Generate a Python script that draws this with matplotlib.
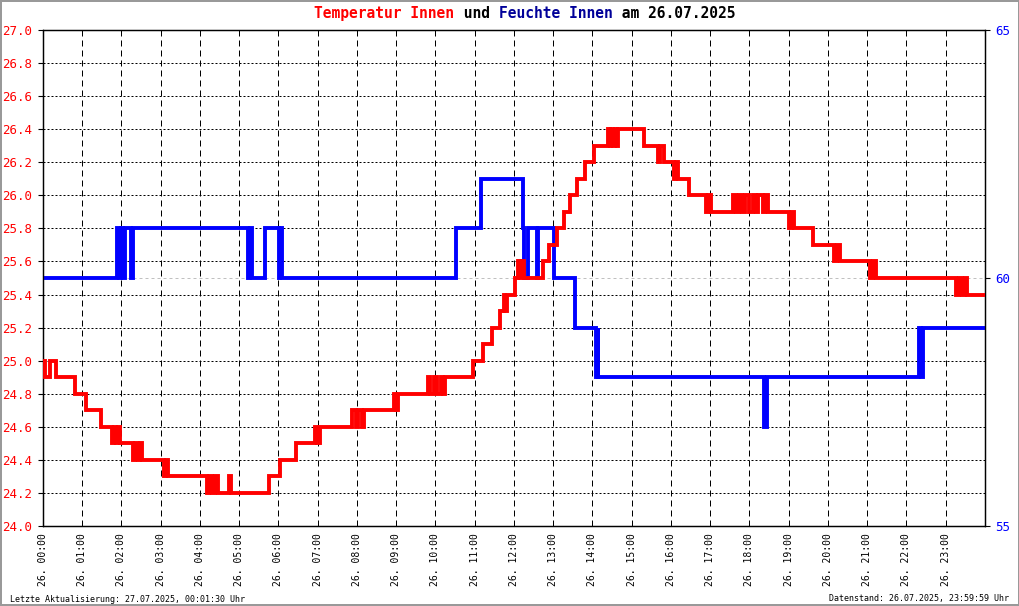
import numpy as np
import matplotlib
matplotlib.use('Agg')
import matplotlib.pyplot as plt

plt.rcParams['font.family'] = ['DejaVu Sans Mono']

# Temperatur Innen: Zeitpunkt (Minuten seit 00:00) und Wert ab diesem Zeitpunkt
temp_min = [0, 3, 11, 20, 49, 66, 89, 106, 109, 112, 115, 118, 138, 141, 145, 148, 152,
            185, 188, 191, 251, 254, 259, 263, 268, 285, 288, 346, 363, 387, 416, 419, 424,
            473, 478, 482, 488, 491, 536, 539, 543, 589, 592, 598, 602, 608, 612, 615,
            657, 673, 687, 698, 704, 707, 709, 721, 726, 729, 732, 735, 765, 773, 785,
            796, 805, 817, 828, 842, 863, 866, 869, 872, 875, 877, 879, 918, 940, 943,
            949, 964, 967, 970, 987, 1013, 1016, 1021, 1055, 1059, 1064, 1068, 1073, 1079,
            1085, 1090, 1093, 1100, 1104, 1108, 1140, 1145, 1148, 1177, 1209, 1214, 1218,
            1264, 1269, 1273, 1396, 1401, 1405, 1410, 1413, 1440]
temp_val = [25.0, 24.9, 25.0, 24.9, 24.8, 24.7, 24.6, 24.5, 24.6, 24.5, 24.6, 24.5, 24.4, 24.5, 24.4, 24.5, 24.4,
            24.3, 24.4, 24.3, 24.2, 24.3, 24.2, 24.3, 24.2, 24.3, 24.2, 24.3, 24.4, 24.5, 24.6, 24.5, 24.6,
            24.7, 24.6, 24.7, 24.6, 24.7, 24.8, 24.7, 24.8, 24.9, 24.8, 24.9, 24.8, 24.9, 24.8, 24.9,
            25.0, 25.1, 25.2, 25.3, 25.4, 25.3, 25.4, 25.5, 25.6, 25.5, 25.6, 25.5, 25.6, 25.7, 25.8,
            25.9, 26.0, 26.1, 26.2, 26.3, 26.4, 26.3, 26.4, 26.3, 26.4, 26.3, 26.4, 26.3, 26.2, 26.3,
            26.2, 26.1, 26.2, 26.1, 26.0, 25.9, 26.0, 25.9, 26.0, 25.9, 26.0, 25.9, 26.0, 25.9,
            26.0, 25.9, 26.0, 25.9, 26.0, 25.9, 25.8, 25.9, 25.8, 25.7, 25.6, 25.7, 25.6,
            25.5, 25.6, 25.5, 25.4, 25.5, 25.4, 25.5, 25.4, 25.4]

# Feuchte Innen
hum_min = [0, 113, 116, 119, 122, 126, 135, 138, 314, 317, 320, 340, 360, 363, 366,
           632, 670, 733, 736, 742, 755, 756, 781, 814, 845, 848, 849, 1102, 1107,
           1339, 1342, 1345, 1440]
hum_val = [60, 61, 60, 61, 60, 61, 60, 61, 60, 61, 60, 61, 60, 61, 60,
           61, 62, 61, 60, 61, 60, 61, 60, 59, 58, 59, 58, 57, 58,
           59, 58, 59, 59]

hours = list(range(24))
hour_labels = [f'26. {h:02d}:00' for h in hours]
temp_ticks = np.round(np.arange(24.0, 27.01, 0.2), 1)
hum_ticks = [55, 60, 65]

RED = '#ff0000'
BLUE = '#0000ff'
NAVY = '#000099'

fig = plt.figure(figsize=(10.2, 6.06), dpi=100)
fig.patch.set_facecolor('white')
fig.patch.set_edgecolor('#999999')
fig.patch.set_linewidth(1.5)

rect = [43 / 1020, 1 - 526 / 606, (985 - 43) / 1020, (526 - 30) / 606]

# Grundachse: Temperaturskala + Gitter
ax = fig.add_axes(rect)
ax.set_xlim(0, 24)
ax.set_ylim(24, 27)
ax.set_xticks(hours)
ax.set_xticklabels(hour_labels, rotation=90, fontsize=7)
ax.set_yticks(temp_ticks)
ax.set_yticklabels([f'{t:.1f}' for t in temp_ticks], color=RED, fontsize=9)
ax.tick_params(axis='x', length=0, pad=5)
ax.tick_params(axis='y', length=3.6, width=0.8, direction='out', pad=4)
ax.xaxis.grid(True, color='black', linewidth=0.72, linestyle=(0, (6, 4)))
ax.yaxis.grid(True, color='black', linewidth=0.72, linestyle=(0, (2, 2)))
for sp in ax.spines.values():
    sp.set_linewidth(0.9)
ax.set_zorder(0)

# Feuchte auf rechter Achse
ax_h = ax.twinx()
ax_h.set_ylim(55, 65)
ax_h.set_yticks(hum_ticks)
ax_h.set_yticklabels([str(v) for v in hum_ticks], color=BLUE, fontsize=9)
ax_h.tick_params(axis='y', length=3.6, width=0.8, direction='out', pad=4)
ax_h.axhline(60, color='#c0c0c0', linewidth=0.72, linestyle=(0, (3, 3)), zorder=1)
ax_h.plot(np.array(hum_min) / 60, hum_val, drawstyle='steps-post', color=BLUE,
          linewidth=2.8, solid_joinstyle='miter', zorder=2)
for sp in ax_h.spines.values():
    sp.set_linewidth(0.9)
ax_h.set_zorder(1)
ax_h.patch.set_visible(False)

# Temperatur obenauf
ax_t = fig.add_axes(rect, sharex=ax, sharey=ax)
ax_t.plot(np.array(temp_min) / 60, temp_val, drawstyle='steps-post', color=RED,
          linewidth=2.8, solid_joinstyle='miter')
ax_t.axis('off')
ax_t.patch.set_visible(False)
ax_t.set_zorder(2)

# Titel in mehreren Farben (Monospace -> feste Zeichenbreite)
parts = [('Temperatur Innen', RED), (' und ', 'black'), ('Feuchte Innen', NAVY),
         (' am 26.07.2025', 'black')]
fs = 10.5
cw = 0.602 * fs * 100 / 72
total = sum(len(p) for p, _ in parts)
x0 = 525 - total * cw / 2
pos = 0
for txt, col in parts:
    fig.text((x0 + pos * cw) / 1020, 1 - 13.5 / 606, txt, color=col, fontsize=fs,
             fontweight='bold', ha='left', va='center')
    pos += len(txt)

fig.text(10 / 1020, 1 - 599 / 606, 'Letzte Aktualisierung: 27.07.2025, 00:01:30 Uhr',
         fontsize=6, ha='left', va='center')
fig.text(1009 / 1020, 1 - 599 / 606, 'Datenstand: 26.07.2025, 23:59:59 Uhr',
         fontsize=6, ha='right', va='center')

fig.savefig('out.png', dpi=100)
